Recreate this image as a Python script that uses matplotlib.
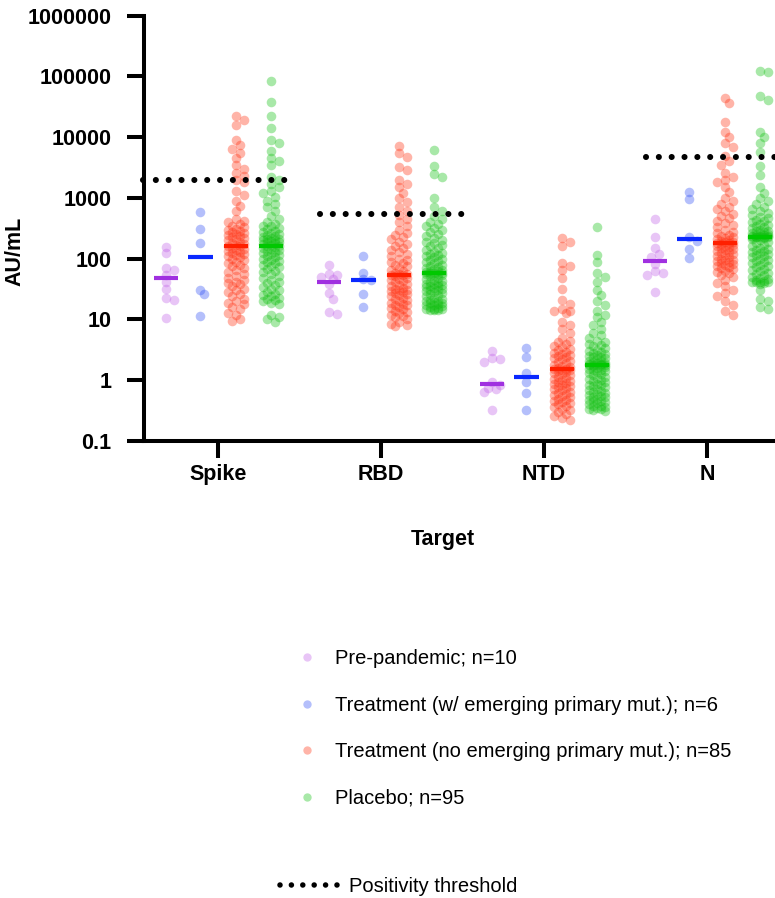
import numpy as np
import matplotlib
matplotlib.use("Agg")
import matplotlib.pyplot as plt
from matplotlib.lines import Line2D
from matplotlib.ticker import FixedLocator, FixedFormatter, NullLocator

plt.rcParams['font.family'] = ['Liberation Sans', 'DejaVu Sans']

# ---------------- data ----------------
categories = ['Spike', 'RBD', 'NTD', 'N']
group_labels = ['Pre-pandemic; n=10',
                'Treatment (w/ emerging primary mut.); n=6',
                'Treatment (no emerging primary mut.); n=85',
                'Placebo; n=95']
threshold_label = 'Positivity threshold'
thresholds = [2000, 550, np.nan, 4800]   # AU/mL, none for NTD

prepandemic_spike = [158, 124, 70, 66, 55, 42, 32, 23, 21, 10.5]
prepandemic_rbd = [78, 56, 53, 50, 46, 38, 27, 22, 13.5, 12.5]
prepandemic_ntd = [3.05, 2.3, 2.25, 2.0, 0.92, 0.84, 0.75, 0.72, 0.65, 0.32]
prepandemic_n = [450, 225, 148, 120, 105, 82, 62, 58, 55, 28]

treat_mut_spike = [597, 309, 181, 31, 26, 11.2]
treat_mut_rbd = [110, 59, 46, 44, 26, 16]
treat_mut_ntd = [3.4, 2.4, 1.3, 0.92, 0.62, 0.32]
treat_mut_n = [1260, 950, 225, 195, 145, 103]

treat_nomut_spike = [22000, 19000, 16000, 9000, 7500, 6500, 5500, 4500, 3500, 3000,
                     2600, 2300, 2000, 1800, 1300, 1100, 900, 750, 600, 450,
                     420, 400, 380, 350, 330, 310, 300, 290, 280, 270,
                     260, 250, 240, 230, 220, 210, 200, 190, 180, 175,
                     170, 165, 160, 150, 145, 140, 135, 130, 125, 120,
                     115, 110, 105, 100, 95, 90, 85, 80, 75, 70,
                     65, 60, 56, 52, 48, 45, 42, 40, 38, 35,
                     32, 30, 28, 26, 24, 22, 20, 19, 18, 16,
                     15, 13, 12, 10, 9.3]
treat_nomut_rbd = [7200, 5500, 4800, 3200, 2900, 2000, 1700, 1500, 1200, 1000,
                   850, 700, 600, 520, 450, 400, 350, 300, 270, 250,
                   230, 210, 190, 175, 160, 150, 140, 130, 120, 110,
                   100, 95, 90, 85, 80, 75, 70, 66, 62, 59,
                   57, 56, 55, 53, 51, 49, 47, 45, 43, 41,
                   39, 37, 35, 33, 32, 31, 30, 29, 28, 27,
                   26, 25, 24, 23, 22, 21, 20, 19, 18, 17.5,
                   17, 16, 15.5, 15, 14, 13.5, 13, 12, 11.5, 11,
                   10, 9, 8.5, 8, 7.9]
treat_nomut_ntd = [220, 190, 160, 85, 75, 65, 48, 32, 21, 18,
                   15, 14, 14, 13, 9, 8, 7, 6, 5, 4.5,
                   4.2, 4.0, 3.7, 3.5, 3.3, 3.1, 2.9, 2.8, 2.7, 2.6,
                   2.5, 2.4, 2.3, 2.2, 2.1, 2.0, 1.9, 1.8, 1.7, 1.65,
                   1.6, 1.56, 1.53, 1.5, 1.45, 1.4, 1.35, 1.3, 1.25, 1.2,
                   1.15, 1.1, 1.05, 1.0, 0.97, 0.94, 0.9, 0.87, 0.84, 0.8,
                   0.77, 0.74, 0.71, 0.68, 0.65, 0.62, 0.6, 0.57, 0.55, 0.52,
                   0.5, 0.48, 0.46, 0.44, 0.42, 0.4, 0.38, 0.36, 0.34, 0.32,
                   0.3, 0.28, 0.26, 0.24, 0.22]
treat_nomut_n = [45000, 36000, 18000, 12000, 10000, 8000, 7000, 5000, 4000, 3500,
                 2600, 2200, 2000, 1800, 1500, 1250, 1000, 900, 800, 700,
                 650, 600, 550, 500, 460, 420, 390, 360, 330, 300,
                 280, 265, 250, 240, 230, 220, 210, 200, 195, 190,
                 186, 183, 180, 175, 170, 165, 160, 155, 150, 145,
                 140, 135, 130, 125, 120, 115, 110, 105, 100, 97,
                 94, 91, 88, 85, 82, 79, 76, 73, 70, 67,
                 64, 61, 58, 55, 50, 45, 40, 35, 30, 27,
                 24, 20, 17, 14, 12]

placebo_spike = [85000, 38000, 22000, 14000, 9000, 8000, 6000, 4500, 4000, 3500,
                 2200, 2000, 1700, 1500, 1300, 1200, 1050, 900, 800, 700,
                 600, 500, 450, 400, 370, 350, 340, 320, 310, 290,
                 280, 270, 260, 250, 240, 230, 220, 215, 210, 205,
                 200, 195, 190, 185, 180, 175, 170, 165, 160, 155,
                 150, 145, 140, 135, 130, 125, 120, 115, 110, 105,
                 100, 96, 92, 88, 84, 80, 76, 72, 68, 64,
                 60, 56, 52, 48, 45, 42, 40, 37, 34, 32,
                 30, 28, 26, 25, 24, 23, 22, 21, 20, 19,
                 18, 12, 11, 10, 9]
placebo_rbd = [6200, 3400, 2500, 2200, 1000, 700, 600, 500, 450, 400,
               370, 340, 320, 300, 280, 260, 240, 220, 200, 190,
               180, 170, 160, 150, 140, 130, 125, 120, 115, 110,
               105, 100, 96, 92, 88, 84, 80, 77, 74, 71,
               68, 66, 64, 62, 60, 59, 58.5, 58, 57, 56,
               55, 53, 51, 49, 47, 45, 43, 41, 40, 39,
               38, 37, 36, 35, 34, 33, 32, 31, 30, 29,
               28, 27, 26, 25, 24, 23, 22, 21, 20.5, 20,
               19.5, 19, 18.5, 18, 17.5, 17, 16.5, 16, 15.5, 15,
               15, 14.8, 14.5, 14.5, 14.5]
placebo_ntd = [330, 115, 90, 59, 50, 41, 31, 25, 20, 17,
               14, 12, 11, 9, 8, 7, 6, 5.5, 5, 4.5,
               4.2, 4.0, 3.8, 3.6, 3.4, 3.2, 3.0, 2.9, 2.8, 2.7,
               2.6, 2.5, 2.45, 2.4, 2.3, 2.2, 2.1, 2.05, 2.0, 1.95,
               1.9, 1.86, 1.82, 1.8, 1.78, 1.77, 1.76, 1.75, 1.7, 1.65,
               1.6, 1.55, 1.5, 1.45, 1.4, 1.35, 1.3, 1.25, 1.2, 1.15,
               1.1, 1.05, 1.0, 0.96, 0.92, 0.88, 0.85, 0.82, 0.79, 0.76,
               0.73, 0.7, 0.67, 0.64, 0.62, 0.6, 0.58, 0.56, 0.54, 0.52,
               0.5, 0.48, 0.46, 0.45, 0.44, 0.42, 0.4, 0.38, 0.37, 0.36,
               0.35, 0.34, 0.33, 0.32, 0.31]
placebo_n = [125000, 120000, 47000, 41000, 12000, 10000, 8000, 5800, 3300, 2400,
             1500, 1200, 1000, 900, 800, 720, 660, 600, 560, 520,
             490, 460, 440, 420, 400, 380, 360, 345, 330, 315,
             300, 290, 282, 275, 268, 262, 256, 250, 245, 240,
             236, 233, 231, 229, 228, 227, 226, 225, 220, 210,
             200, 190, 180, 170, 160, 150, 145, 140, 135, 130,
             125, 120, 115, 110, 105, 100, 96, 92, 88, 84,
             80, 76, 72, 68, 65, 62, 59, 56, 53, 50,
             48, 46, 44, 43, 42, 42, 41, 41, 40, 38,
             30, 22, 20, 16, 15]

groups = [
    [prepandemic_spike, prepandemic_rbd, prepandemic_ntd, prepandemic_n],
    [treat_mut_spike, treat_mut_rbd, treat_mut_ntd, treat_mut_n],
    [treat_nomut_spike, treat_nomut_rbd, treat_nomut_ntd, treat_nomut_n],
    [placebo_spike, placebo_rbd, placebo_ntd, placebo_n],
]

# ---------------- style ----------------
point_colors = ['#C060E8', '#3050F5', '#FF3010', '#10C010']
bar_colors = ['#A030E0', '#0A28FF', '#FF2000', '#00C800']
group_offsets = [-0.317, -0.107, 0.11, 0.325]

W, H = 775, 898
fig = plt.figure(figsize=(W / 100, H / 100), dpi=100)
ax_left, ax_top, ax_bottom = 143.6, 15.7, 441.0
xmin, xmax = -0.456, 3.5
px_per_unit = 163.0
ax_w = (xmax - xmin) * px_per_unit
ax = fig.add_axes([ax_left / W, 1 - ax_bottom / H, ax_w / W, (ax_bottom - ax_top) / H])
ax.set_yscale('log')
ax.set_ylim(0.1, 1e6)
ax.set_xlim(xmin, xmax)
px_per_dec = (ax_bottom - ax_top) / 7.0

d_px = 9.6          # marker diameter in px
ms_pt = d_px * 72 / 100


def swarm(values, min_dist, step, max_w):
    ys = np.log10(np.asarray(values, float)) * px_per_dec
    order = np.argsort(-ys)
    cands = [0.0]
    k = 1
    while k * step <= max_w + 1e-9:
        cands += [k * step, -k * step]
        k += 1
    placed = []
    off = np.zeros(len(ys))
    for i in order:
        y = ys[i]
        best, best_score = None, -1
        for c in cands:
            if placed:
                p = np.array(placed)
                dist = np.sqrt((p[:, 0] - c) ** 2 + (p[:, 1] - y) ** 2).min()
            else:
                dist = 1e9
            if dist >= min_dist:
                best = c
                break
            if dist > best_score:
                best_score, best = dist, c
        off[i] = best
        placed.append((best, y))
    return off / px_per_unit


for gi, grp in enumerate(groups):
    for ci, vals in enumerate(grp):
        xc = ci + group_offsets[gi]
        offs = swarm(vals, min_dist=6.0, step=4.0, max_w=8.0)
        ax.scatter(xc + offs, vals, s=ms_pt ** 2, color=point_colors[gi],
                   alpha=0.36, linewidths=0, zorder=2, clip_on=False)
        med = np.median(vals)
        ax.plot([xc - 0.074, xc + 0.074], [med, med], color=bar_colors[gi],
                lw=3.0, solid_capstyle='butt', zorder=4)

dot_style = dict(color='black', lw=4.4, linestyle=(0, (0.001, 2.1)),
                 dash_capstyle='round', zorder=5)
for ci, th in enumerate(thresholds):
    if np.isnan(th):
        continue
    if ci == 0:
        x0, x1 = ci - 0.462, ci + 0.41
    else:
        x0, x1 = ci - 0.372, ci + 0.51
    ax.plot([x0, x1], [th, th], clip_on=False, **dot_style)

# axes styling
lab_fs = 15.5
for s in ['top', 'right']:
    ax.spines[s].set_visible(False)
for s in ['left', 'bottom']:
    ax.spines[s].set_linewidth(2.9)
ax.yaxis.set_major_locator(FixedLocator([0.1, 1, 10, 100, 1000, 1e4, 1e5, 1e6]))
ax.yaxis.set_major_formatter(FixedFormatter(['0.1', '1', '10', '100', '1000',
                                             '10000', '100000', '1000000']))
ax.yaxis.set_minor_locator(NullLocator())
ax.set_xticks(range(len(categories)))
ax.set_xticklabels(categories)
ax.tick_params(axis='both', width=2.9, length=12.5, labelsize=lab_fs)
ax.tick_params(axis='y', pad=10.5)
ax.tick_params(axis='x', pad=4)
for lab in ax.get_xticklabels() + ax.get_yticklabels():
    lab.set_fontweight('bold')

ax.set_ylabel('AU/mL', fontsize=lab_fs, fontweight='bold')
ax.yaxis.set_label_coords((25 - ax_left) / ax_w, 1 - (251 - ax_top) / (ax_bottom - ax_top))
ax.set_xlabel('Target', fontsize=lab_fs, fontweight='bold', va='center')
ax.xaxis.set_label_coords((443 - ax_left) / ax_w, -(540 - ax_bottom) / (ax_bottom - ax_top))

# legends
handles = [Line2D([], [], linestyle='none', marker='o', markersize=6.0,
                  markerfacecolor=c, markeredgewidth=0, alpha=0.36)
           for c in point_colors]
leg1 = fig.legend(handles, group_labels, loc='upper left',
                  bbox_to_anchor=(297 / W, 1 - 649 / H), frameon=False,
                  fontsize=14.5, handlelength=1.0, handletextpad=0.89,
                  labelspacing=1.37, borderpad=0, borderaxespad=0)
th_handle = Line2D([], [], color='black', lw=4.0, linestyle=(0, (0.001, 2.05)),
                   dash_capstyle='round')
leg2 = fig.legend([th_handle], [threshold_label], loc='upper left',
                  bbox_to_anchor=(280 / W, 1 - 877.5 / H), frameon=False,
                  fontsize=14.5, handlelength=2.85, handletextpad=0.6,
                  borderpad=0, borderaxespad=0)

fig.savefig('out.png', dpi=100)
